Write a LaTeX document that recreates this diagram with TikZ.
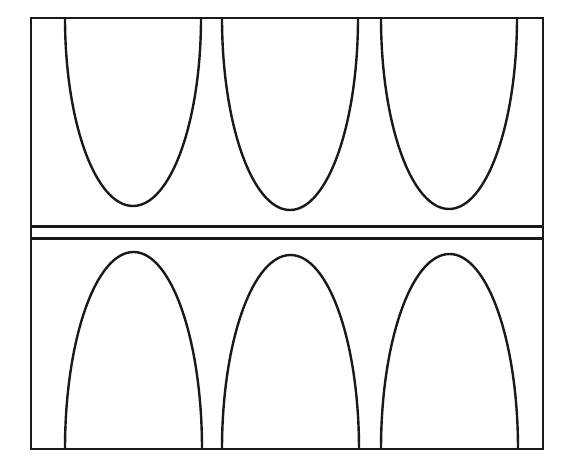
\documentclass[tikz,border=0pt]{standalone}

\tikzset{%
	frame/.style={
		draw=black!90,
		line width=2.8pt
	},
	lobe/.style={
		draw=black!90,
		line width=2.4pt
	},
}

\begin{document}
\begin{tikzpicture}[x=1pt, y=1pt]
\useasboundingbox (0,0) rectangle (576,469);

% the box and the double bar
\draw [frame] (31,20) rectangle (543,451);
\draw [frame] (31,242.5) -- (543,242.5);
\draw [frame] (31,230.5) -- (543,230.5);

% hanging lobes
\foreach \x/\r in {65/188, 222/192, 381/191}
\draw [lobe] (\x,451) arc [start angle=180, end angle=360, x radius=68, y radius=\r];

% standing lobes
\foreach \x/\r in {65/197, 222/194, 381/195}
\draw [lobe] (\x,20) arc [start angle=180, end angle=0, x radius=68.5, y radius=\r];

\end{tikzpicture}
\end{document}
